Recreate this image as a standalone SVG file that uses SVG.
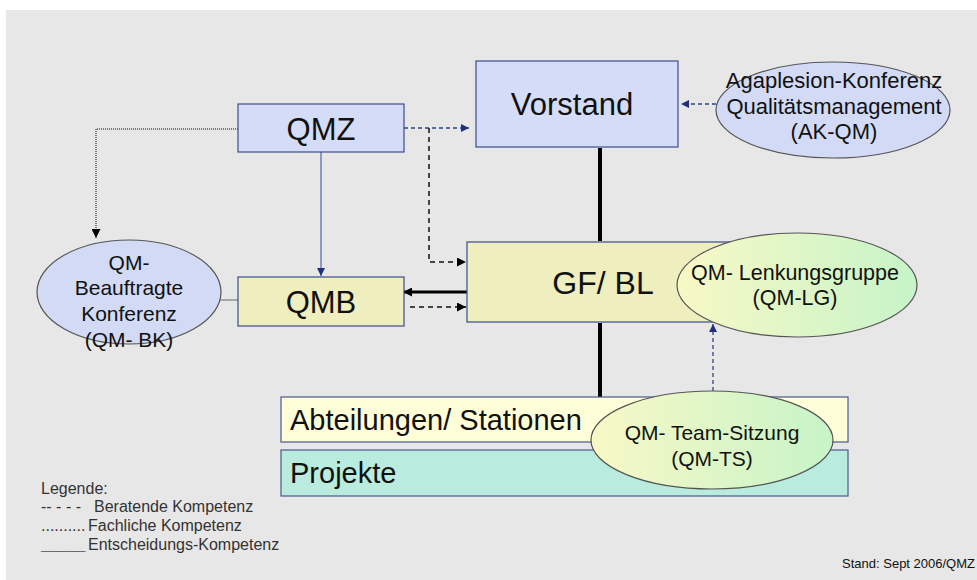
<svg xmlns="http://www.w3.org/2000/svg" width="977" height="580" viewBox="0 0 977 580">
  <style>
    text { font-family: "Liberation Sans", Arial, sans-serif; fill: #111; }
    .box-blue { fill: #d4dcf7; stroke: #3d4c8c; stroke-width: 1.2; }
    .box-yellow { fill: #eeeebf; stroke: #3d4c8c; stroke-width: 1.2; }
    .box-pale { fill: #fdfdd8; stroke: #4a5a8a; stroke-width: 1.2; }
    .box-aqua { fill: #b9ecde; stroke: #4a5a8a; stroke-width: 1.2; }
    .ell-blue { fill: #d2daf5; stroke: #555; stroke-width: 1.2; }
    .ell-green { fill: url(#gYG); stroke: #555; stroke-width: 1.2; }
    .big { font-size: 31px; text-anchor: middle; }
    .mid { font-size: 21px; text-anchor: middle; }
    .row { font-size: 29px; }
    .legend { font-size: 16px; fill: #333; }
    .dash-blue { fill: none; stroke: #2e418f; stroke-width: 1.3; stroke-dasharray: 4 3; }
    .dash-black { fill: none; stroke: #111; stroke-width: 1.5; stroke-dasharray: 5 4; }
    .dot-gray { fill: none; stroke: #777; stroke-width: 2; stroke-dasharray: 1 1; }
    .thin-blue { fill: none; stroke: #5068a8; stroke-width: 1.2; }
    .thin-gray { fill: none; stroke: #666; stroke-width: 1; }
    .thick { fill: none; stroke: #000; stroke-width: 4; }
  </style>
  <defs>
    <linearGradient id="gYG" x1="0" y1="0" x2="1" y2="0">
      <stop offset="0" stop-color="#f8f8c6"/>
      <stop offset="1" stop-color="#c6f4c8"/>
    </linearGradient>
    <marker id="aBlue" viewBox="0 0 10 10" refX="10" refY="5" markerWidth="8" markerHeight="8" markerUnits="userSpaceOnUse" orient="auto">
      <path d="M0,0 L10,5 L0,10 z" fill="#1e2f80"/>
    </marker>
    <marker id="aBlack" viewBox="0 0 10 10" refX="10" refY="5" markerWidth="9" markerHeight="9" markerUnits="userSpaceOnUse" orient="auto">
      <path d="M0,0 L10,5 L0,10 z" fill="#000"/>
    </marker>
  </defs>

  <!-- page -->
  <rect x="0" y="0" width="977" height="580" fill="#ffffff"/>
  <rect x="6" y="10" width="971" height="570" fill="#e7e7e7"/>

  <!-- connectors -->
  <g id="connectors">
    <path class="dash-blue" d="M404,128 H469" marker-end="url(#aBlue)"/>
    <path class="dash-blue" d="M716,104 H681" marker-end="url(#aBlue)"/>
    <path class="dash-black" d="M429,128 V262 H466" marker-end="url(#aBlack)"/>
    <path class="thin-blue" d="M321,152 V276" marker-end="url(#aBlue)"/>
    <path class="dot-gray" d="M238,129 H96 V238" marker-end="url(#aBlack)"/>
    <path class="thin-gray" d="M220,300 H238"/>
    <path fill="none" stroke="#000" stroke-width="3" d="M467,292 H403" marker-end="url(#aBlack)"/>
    <path class="dash-black" d="M410,307 H466" marker-end="url(#aBlack)"/>
    <path class="thick" d="M600,148 V241"/>
    <path class="thick" d="M600,323 V397"/>
    <path class="dash-blue" d="M713,391 V324" marker-end="url(#aBlue)"/>
  </g>

  <!-- nodes -->
  <g id="vorstand">
    <rect class="box-blue" x="476" y="61" width="202" height="86"/>
    <text class="big" x="572" y="115">Vorstand</text>
  </g>
  <g id="qmz">
    <rect class="box-blue" x="238" y="104" width="166" height="48"/>
    <text class="big" x="321" y="140">QMZ</text>
  </g>
  <g id="ak-qm">
    <ellipse class="ell-blue" cx="833" cy="110" rx="117" ry="48"/>
    <text class="mid" x="834" y="88" style="font-size:22px">Agaplesion-Konferenz</text>
    <text class="mid" x="834" y="114" style="font-size:22px">Qualitätsmanagement</text>
    <text class="mid" x="834" y="139" style="font-size:22px">(AK-QM)</text>
  </g>
  <g id="qm-bk">
    <ellipse class="ell-blue" cx="129" cy="292" rx="92" ry="52"/>
    <text class="mid" x="129" y="270">QM-</text>
    <text class="mid" x="129" y="295">Beauftragte</text>
    <text class="mid" x="129" y="321">Konferenz</text>
    <text class="mid" x="129" y="347">(QM- BK)</text>
  </g>
  <g id="qmb">
    <rect class="box-yellow" x="238" y="277" width="166" height="49"/>
    <text class="big" x="321" y="313">QMB</text>
  </g>
  <g id="gf-bl">
    <rect class="box-yellow" x="467" y="242" width="290" height="80"/>
    <text class="big" x="603" y="294" style="font-size:32px">GF/ BL</text>
  </g>
  <g id="qm-lg">
    <ellipse class="ell-green" cx="797" cy="285" rx="120" ry="52"/>
    <text class="mid" x="795" y="280" style="font-size:21.5px">QM- Lenkungsgruppe</text>
    <text class="mid" x="795" y="305" style="font-size:21.5px">(QM-LG)</text>
  </g>
  <g id="abteilungen">
    <rect class="box-pale" x="281" y="397" width="567" height="45"/>
    <text class="row" x="290" y="430">Abteilungen/ Stationen</text>
  </g>
  <g id="projekte">
    <rect class="box-aqua" x="281" y="450" width="567" height="46"/>
    <text class="row" x="290" y="483">Projekte</text>
  </g>
  <g id="qm-ts">
    <ellipse class="ell-green" cx="712" cy="440" rx="121" ry="49"/>
    <text class="mid" x="712" y="440">QM- Team-Sitzung</text>
    <text class="mid" x="712" y="466">(QM-TS)</text>
  </g>

  <!-- legend -->
  <g id="legend">
    <text class="legend" x="41" y="494">Legende:</text>
    <text class="legend" x="41" y="512">-- - - -</text>
    <text class="legend" x="94" y="512">Beratende Kompetenz</text>
    <text class="legend" x="41" y="531">..........</text>
    <text class="legend" x="88" y="531">Fachliche Kompetenz</text>
    <text class="legend" x="41" y="550" style="fill:#000;font-weight:bold">_____</text>
    <text class="legend" x="88" y="550">Entscheidungs-Kompetenz</text>
  </g>
  <text x="975" y="568" style="font-size:13px;text-anchor:end">Stand: Sept 2006/QMZ</text>
</svg>
